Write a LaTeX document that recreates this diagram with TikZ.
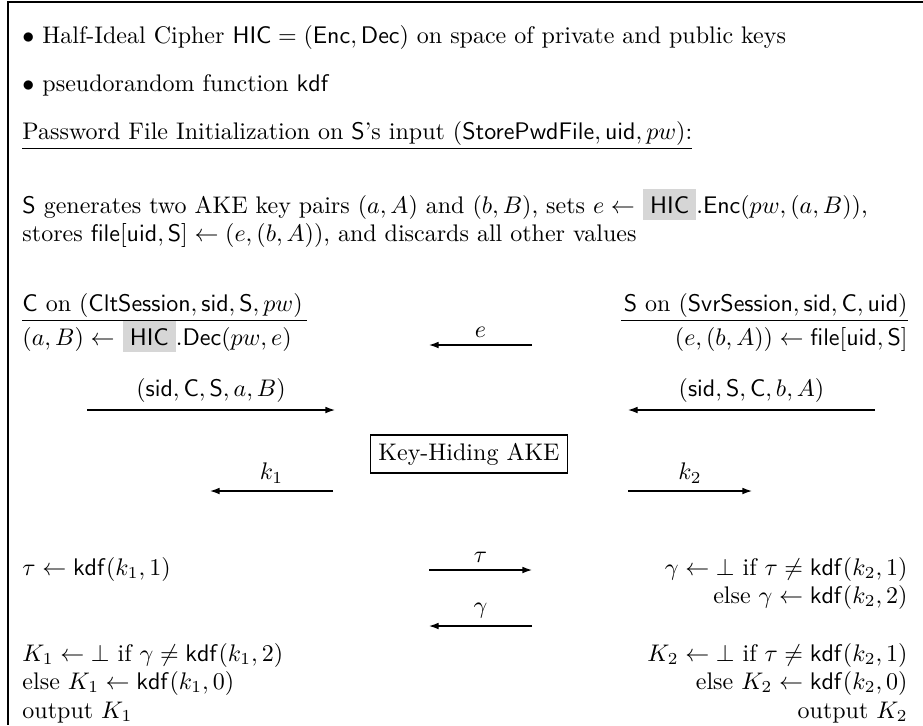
\documentclass[tikz,border=0pt]{standalone}
\usetikzlibrary{arrows.meta}
\definecolor{hicgray}{gray}{0.84}
\newcommand{\hicbox}{\colorbox{hicgray}{$\mathsf{HIC}$}}
\begin{document}
\begin{tikzpicture}[x=0.41667pt,y=-0.41667pt,
  txt/.style={inner sep=0pt,anchor=base west},
  rtxt/.style={inner sep=0pt,anchor=base east},
  msg/.style={line width=0.5pt,-{Latex[length=4pt,width=2.8pt]}},
  lbl/.style={above,inner sep=3pt},
  framebox/.style={line width=0.5pt}]
\useasboundingbox (0,0) rectangle (923,725);
% frame
\coordinate (frA) at (923,2);
\coordinate (frB) at (8,2);
\coordinate (frC) at (8,725);
\draw[framebox] (frA) -- (frB) -- (frC);
% header
\node[txt] (b1) at (22,43) {$\bullet$ Half-Ideal Cipher $\mathsf{HIC}=(\mathsf{Enc},\mathsf{Dec})$ on space of private and public keys};
\node[txt] (b2) at (22,91) {$\bullet$ pseudorandom function $\mathsf{kdf}$};
\node[txt] (pwd) at (22,139) {\underline{Password File Initialization on $\mathsf{S}$'s input $(\mathsf{StorePwdFile},\mathsf{uid},pw)$:}};
\node[txt] (sg1) at (22,213) {$\mathsf{S}$ generates two AKE key pairs $(a,A)$ and $(b,B)$, sets $e\leftarrow$ \hicbox$.\mathsf{Enc}(pw,(a,B))$,};
\node[txt] (sg2) at (22,241) {stores $\mathsf{file}[\mathsf{uid},\mathsf{S}]\leftarrow(e,(b,A))$, and discards all other values};
% parties
\node[txt] (con) at (22,311) {\underline{$\mathsf{C}$ on $(\mathsf{CltSession},\mathsf{sid},\mathsf{S},pw)$\kern2pt}};
\node[txt] (dec) at (22,345) {$(a,B)\leftarrow$ \hicbox$.\mathsf{Dec}(pw,e)$};
\node[rtxt] (son) at (908,311) {\underline{\kern1pt$\mathsf{S}$ on $(\mathsf{SvrSession},\mathsf{sid},\mathsf{C},\mathsf{uid})$}};
\node[rtxt] (fil) at (908,345) {$(e,(b,A))\leftarrow\mathsf{file}[\mathsf{uid},\mathsf{S}]$};
% e message
\coordinate (eA) at (532,345);
\coordinate (eB) at (429,345);
\draw[msg] (eA) -- node[lbl] (el) {$e$} (eB);
% AKE messages
\coordinate (cA) at (87,410);
\coordinate (cB) at (335,410);
\draw[msg] (cA) -- node[lbl] (cl) {$(\mathsf{sid},\mathsf{C},\mathsf{S},a,B)$} (cB);
\coordinate (sA) at (875,410);
\coordinate (sB) at (628,410);
\draw[msg] (sA) -- node[lbl] (sl) {$(\mathsf{sid},\mathsf{S},\mathsf{C},b,A)$} (sB);
\node[draw,line width=0.5pt] (ake) at (469,454) {Key-Hiding AKE};
\coordinate (k1A) at (333,491);
\coordinate (k1B) at (210,491);
\draw[msg] (k1A) -- node[lbl] (k1l) {$k_1$} (k1B);
\coordinate (k2A) at (628,491);
\coordinate (k2B) at (752,491);
\draw[msg] (k2A) -- node[lbl] (k2l) {$k_2$} (k2B);
% confirmation
\node[txt] (tau) at (22,575) {$\tau\leftarrow\mathsf{kdf}(k_1,1)$};
\coordinate (tA) at (429,570);
\coordinate (tB) at (532,570);
\draw[msg] (tA) -- node[lbl] (tl) {$\tau$} (tB);
\node[rtxt] (g1) at (908,575) {$\gamma\leftarrow\bot$ if $\tau\neq\mathsf{kdf}(k_2,1)$};
\node[rtxt] (g2) at (908,603) {else $\gamma\leftarrow\mathsf{kdf}(k_2,2)$};
\coordinate (gA) at (532,626);
\coordinate (gB) at (429,626);
\draw[msg] (gA) -- node[lbl] (gl) {$\gamma$} (gB);
\node[txt] (K1a) at (22,661) {$K_1\leftarrow\bot$ if $\gamma\neq\mathsf{kdf}(k_1,2)$};
\node[txt] (K1b) at (22,689) {else $K_1\leftarrow\mathsf{kdf}(k_1,0)$};
\node[txt] (K1c) at (22,718) {output $K_1$};
\node[rtxt] (K2a) at (908,661) {$K_2\leftarrow\bot$ if $\tau\neq\mathsf{kdf}(k_2,1)$};
\node[rtxt] (K2b) at (908,689) {else $K_2\leftarrow\mathsf{kdf}(k_2,0)$};
\node[rtxt] (K2c) at (908,718) {output $K_2$};
\end{tikzpicture}
\end{document}
